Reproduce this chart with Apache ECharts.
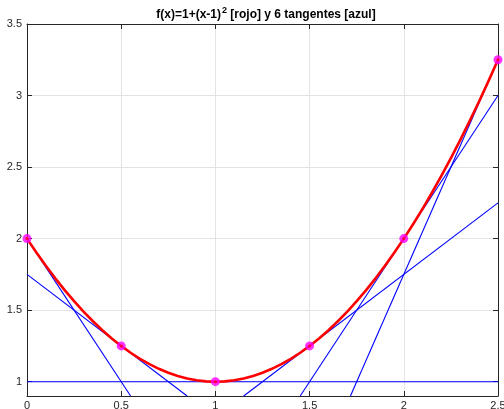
<!DOCTYPE html>
<html><head><meta charset="utf-8">
<script src="https://cdn.jsdelivr.net/npm/echarts@6/dist/echarts.min.js"></script>
<style>html,body{margin:0;padding:0;background:#fff}#c{width:504px;height:409px}</style>
</head><body><div id="c"></div>
<script>
// red curve samples
const curveX = [0,0.05,0.1,0.15,0.2,0.25,0.3,0.35,0.4,0.45,0.5,0.55,0.6,0.65,0.7,0.75,0.8,0.85,0.9,0.95,1,
  1.05,1.1,1.15,1.2,1.25,1.3,1.35,1.4,1.45,1.5,1.55,1.6,1.65,1.7,1.75,1.8,1.85,1.9,1.95,2,
  2.05,2.1,2.15,2.2,2.25,2.3,2.35,2.4,2.45,2.5];
const curveY = [2,1.9025,1.81,1.7225,1.64,1.5625,1.49,1.4225,1.36,1.3025,1.25,1.2025,1.16,1.1225,1.09,1.0625,1.04,1.0225,1.01,1.0025,1,
  1.0025,1.01,1.0225,1.04,1.0625,1.09,1.1225,1.16,1.2025,1.25,1.3025,1.36,1.4225,1.49,1.5625,1.64,1.7225,1.81,1.9025,2,
  2.1025,2.21,2.3225,2.44,2.5625,2.69,2.8225,2.96,3.1025,3.25];
// tangency points (magenta)
const pointX = [0,0.5,1,1.5,2,2.5];
const pointY = [2,1.25,1,1.25,2,3.25];
// tangent line segments (start / end, clipped to plot)
const tanStartX = [0,0,0,1.15,1.45,1.7167];
const tanStartY = [2,1.75,1,0.9,0.9,0.9];
const tanEndX = [0.55,0.85,2.5,2.5,2.5,2.5];
const tanEndY = [0.9,0.9,1,2.25,3,3.25];
// axis ticks
const xTicks = [0,0.5,1,1.5,2,2.5];
const yTicks = [1,1.5,2,2.5,3,3.5];

const FONT = "'Liberation Sans', Arial, Helvetica, sans-serif";
const AX = '#262626';
const chart = echarts.init(document.getElementById('c'), null, {renderer:'canvas'});

const series = [];
for (let i = 0; i < tanStartX.length; i++) {
  series.push({
    type:'line', xAxisIndex:0, yAxisIndex:0,
    data:[[tanStartX[i],tanStartY[i]],[tanEndX[i],tanEndY[i]]],
    showSymbol:false, symbol:'none', clip:true,
    lineStyle:{color:'#0000ff', width:1.1}, silent:true, animation:false, z:2
  });
}
series.push({
  type:'line', data: curveX.map((x,i)=>[x,curveY[i]]),
  symbol:'none', smooth:false,
  lineStyle:{color:'#ff0000', width:2.6, join:'round'}, animation:false, z:3
});
series.push({
  type:'scatter', data: pointX.map((x,i)=>[x,pointY[i]]),
  symbol:'circle', symbolSize:9, itemStyle:{color:'#ff00ff'}, animation:false, z:4
});
series.push({
  type:'scatter', data: pointX.map((x,i)=>[x,pointY[i]]),
  symbol:'circle', symbolSize:3, itemStyle:{color:'#ff0000'}, animation:false, z:5
});

const labelStyle = {color:AX, fontSize:11, fontFamily:FONT};
chart.setOption({
  animation:false,
  backgroundColor:'#fff',
  title:{
    text:'{n|f(x)=1+(x-1)}{s|2}{n| [rojo] y 6 tangentes [azul]}',
    left:261, top:1, textAlign:'center',
    textStyle:{
      rich:{
        n:{fontSize:12, fontWeight:'bold', fontFamily:FONT, color:'#000', lineHeight:15, verticalAlign:'bottom'},
        s:{fontSize:9, fontWeight:'bold', fontFamily:FONT, color:'#000', lineHeight:15, verticalAlign:'top', padding:[0,0,0,1]}
      }
    }
  },
  grid:{left:27, right:6, top:24, bottom:13, containLabel:false, outerBoundsMode:'none'},
  xAxis:[
    {type:'value', min:0, max:2.5, interval:0.5, position:'bottom',
     axisLine:{show:true, onZero:false, lineStyle:{color:AX, width:1}},
     axisTick:{show:true, inside:true, length:5, lineStyle:{color:AX}},
     axisLabel:Object.assign({margin:4, showMaxLabel:true, showMinLabel:true, hideOverlap:false}, labelStyle),
     splitLine:{show:true, lineStyle:{color:'#e3e3e3', width:1}}},
    {type:'value', min:0, max:2.5, interval:0.5, position:'top',
     axisLine:{show:true, onZero:false, lineStyle:{color:AX, width:1}},
     axisTick:{show:true, inside:true, length:5, lineStyle:{color:AX}},
     axisLabel:{show:false}, splitLine:{show:false}}
  ],
  yAxis:[
    {type:'value', min:0.9, max:3.5, position:'left',
     axisLine:{show:true, onZero:false, lineStyle:{color:AX, width:1}},
     axisTick:{show:true, inside:true, length:5, lineStyle:{color:AX}, customValues:yTicks},
     axisLabel:Object.assign({margin:5, customValues:yTicks}, labelStyle),
     splitLine:{show:true, lineStyle:{color:'#e3e3e3', width:1}}},
    {type:'value', min:0.9, max:3.5, position:'right',
     axisLine:{show:true, onZero:false, lineStyle:{color:AX, width:1}},
     axisTick:{show:true, inside:true, length:5, lineStyle:{color:AX}, customValues:yTicks},
     axisLabel:{show:false, customValues:yTicks}, splitLine:{show:false}}
  ],
  series: series
});
</script>
</body></html>
